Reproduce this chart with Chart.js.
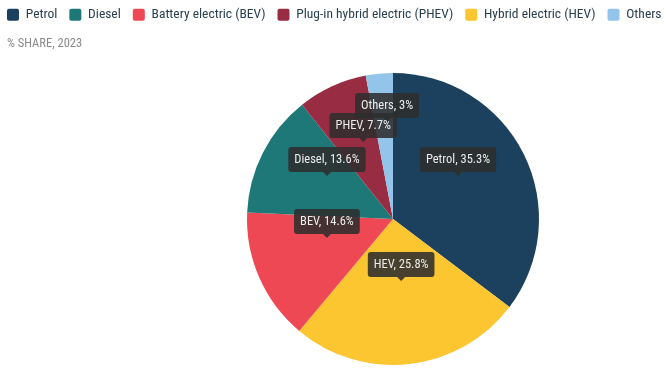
<!DOCTYPE html>
<html><head><meta charset="utf-8">
<script src="https://cdn.jsdelivr.net/npm/chart.js@4.4.1/dist/chart.umd.min.js"></script>
<style>
html,body{margin:0;padding:0;background:#fff;overflow:hidden;width:667px;height:379px}
#wrap{position:absolute;left:-5px;top:-4px;width:700px;height:383px}
</style></head>
<body><div id="wrap"><canvas id="c"></canvas></div>
<script>
// Slices in drawing order (clockwise from top)
const categories = ['Petrol', 'Hybrid electric (HEV)', 'Battery electric (BEV)', 'Diesel', 'Plug-in hybrid electric (PHEV)', 'Others'];
const shortNames = ['Petrol', 'HEV', 'BEV', 'Diesel', 'PHEV', 'Others'];
const shares = [35.3, 25.8, 14.6, 13.6, 7.7, 3];
const legendOrder = ['Petrol', 'Diesel', 'Battery electric (BEV)', 'Plug-in hybrid electric (PHEV)', 'Hybrid electric (HEV)', 'Others'];
const subtitle = '% SHARE, 2023';

const FONT = "'Liberation Sans Narrow', 'Roboto Condensed', Roboto, sans-serif";
const colors = ['#1c415f', '#fbc630', '#ef4855', '#1e7878', '#982c43', '#92c5e9'];
// label anchor placement: fraction of radius and angular nudge (degrees)
const labelRadius = [0.534, 0.428, 0.471, 0.540, 0.566, 0.666];
const labelAngleShift = [-7, -1, 7.7, 6.1, 3.5, 1.9];
// pie placement in page pixels
const PIE = { cx: 393, cy: 219, r: 146 };
const OFF = { x: 5, y: 4 };

const areaPlugin = {
  id: 'pieArea',
  afterLayout(chart) {
    const l = PIE.cx - PIE.r + OFF.x, t = PIE.cy - PIE.r + OFF.y;
    chart.chartArea = { left: l, top: t, right: l + 2 * PIE.r, bottom: t + 2 * PIE.r, width: 2 * PIE.r, height: 2 * PIE.r };
  }
};

const labelPlugin = {
  id: 'boxLabels',
  afterDatasetsDraw(chart) {
    const ctx = chart.ctx;
    const meta = chart.getDatasetMeta(0);
    ctx.save();
    ctx.font = '12.5px ' + FONT;
    ctx.textBaseline = 'middle';
    ctx.textAlign = 'center';
    const order = meta.data.map((_, i) => i).reverse();
    order.forEach(i => {
      const arc = meta.data[i];
      const p = arc.getProps(['x', 'y', 'startAngle', 'endAngle', 'outerRadius'], true);
      const mid = (p.startAngle + p.endAngle) / 2 + labelAngleShift[i] * Math.PI / 180;
      const r = p.outerRadius * labelRadius[i];
      const tx = p.x + Math.cos(mid) * r;
      const ty = p.y + Math.sin(mid) * r;
      const txt = shortNames[i] + ', ' + shares[i] + '%';
      const w = ctx.measureText(txt).width + 12;
      const h = 25;
      const bottom = ty - 4;
      const left = tx - w / 2;
      const top = bottom - h;
      ctx.fillStyle = 'rgba(45,45,45,0.88)';
      ctx.beginPath();
      ctx.roundRect(left, top, w, h, 3);
      ctx.fill();
      ctx.beginPath();
      ctx.moveTo(tx - 4, bottom);
      ctx.lineTo(tx, bottom + 4);
      ctx.lineTo(tx + 4, bottom);
      ctx.closePath();
      ctx.fill();
      ctx.fillStyle = '#ececec';
      ctx.fillText(txt, tx, top + h / 2 + 0.5);
    });
    ctx.restore();
  }
};

const subtitlePlugin = {
  id: 'subText',
  afterDraw(chart) {
    const ctx = chart.ctx;
    ctx.save();
    ctx.font = '12.5px ' + FONT;
    ctx.fillStyle = '#8a8a8a';
    ctx.textBaseline = 'alphabetic';
    ctx.textAlign = 'left';
    ctx.fillText(subtitle, 12, 51);
    ctx.restore();
  }
};

new Chart(document.getElementById('c'), {
  type: 'pie',
  data: {
    labels: categories,
    datasets: [{
      data: shares,
      backgroundColor: colors,
      borderWidth: 0,
      clip: false
    }]
  },
  options: {
    responsive: true,
    maintainAspectRatio: false,
    animation: false,
    layout: { padding: 0 },
    plugins: {
      tooltip: { enabled: false },
      legend: {
        position: 'top',
        align: 'start',
        labels: {
          boxWidth: 12,
          boxHeight: 12,
          useBorderRadius: true,
          borderRadius: 2,
          padding: 12,
          color: '#2b4150',
          font: { family: FONT, size: 13.5 },
          sort: (a, b) => legendOrder.indexOf(a.text) - legendOrder.indexOf(b.text)
        }
      }
    }
  },
  plugins: [areaPlugin, labelPlugin, subtitlePlugin]
});
</script>
</body></html>
